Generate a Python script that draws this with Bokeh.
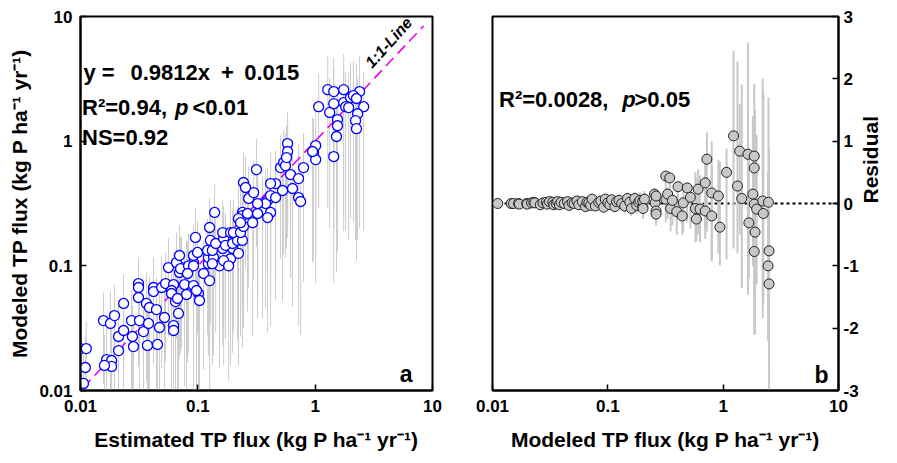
import math
from bokeh.plotting import figure
from bokeh.layouts import row
from bokeh.models import Range1d, FixedTicker, CustomJSTickFormatter, Label, Span, ColumnDataSource
from bokeh.embed import file_html
from bokeh.resources import INLINE

FONT = "Liberation Sans"

# ---------------- panel a: estimated vs modeled TP flux ----------------
est_a = [0.0106, 0.0110, 0.0100, 0.0112, 0.0157, 0.0180, 0.0195, 0.0233, 0.0211, 0.0233,
         0.0211, 0.0167, 0.0184, 0.0184, 0.0160, 0.0283, 0.0277, 0.0272, 0.0318, 0.0344,
         0.0372, 0.0453, 0.0380, 0.0471, 0.0520, 0.0621, 0.0621, 0.0312, 0.0312, 0.0312,
         0.0365, 0.0387, 0.0419, 0.0419, 0.0444, 0.0491, 0.0562, 0.0531, 0.0621, 0.0597,
         0.0597, 0.0645, 0.0684, 0.0698, 0.0801, 0.0726, 0.0771, 0.0919, 0.0801, 0.1014,
         0.1033, 0.112, 0.126, 0.123, 0.153, 0.0919, 0.0658, 0.0671, 0.0975,
         0.0712, 0.0834, 0.0919, 0.0817, 0.0698, 0.0919, 0.0994, 0.123, 0.136, 0.190,
         0.166, 0.133, 0.183, 0.121, 0.133, 0.163, 0.198, 0.222, 0.128, 0.142,
         0.166, 0.172, 0.198, 0.218, 0.240, 0.0955, 0.163, 0.190, 0.201, 0.231,
         0.126, 0.245, 0.139, 0.240, 0.240, 0.222, 0.231, 0.293, 0.265, 0.356,
         0.417, 0.393, 0.323, 0.393, 0.378, 0.417, 0.460, 0.323, 0.271, 0.299,
         0.245, 0.255, 0.460, 0.417, 0.527, 0.641, 0.722, 0.751, 0.617, 0.722,
         0.316, 0.507, 0.538, 0.559, 0.796, 0.969, 1.01,
         1.28, 1.44, 1.75, 2.39, 1.07, 1.33, 1.44, 1.75, 1.82, 1.93,
         2.00, 2.12, 2.25, 2.59, 2.30, 1.55, 1.55, 2.21, 2.25, 1.52,
         1.44, 1.01, 0.950, 0.582, 0.582, 0.570]
mod_a = [0.0114, 0.0153, 0.0217, 0.0217, 0.0364, 0.0345, 0.0399, 0.0499, 0.0271, 0.0303,
         0.0209, 0.0177, 0.0174, 0.0156, 0.0159, 0.0225, 0.0271, 0.0364, 0.0364, 0.0297,
         0.0230, 0.0234, 0.0345, 0.0320, 0.0385, 0.0332, 0.0303, 0.0721, 0.0670, 0.0557,
         0.0499, 0.0463, 0.0670, 0.0622, 0.0446, 0.0670, 0.0969, 0.0721, 0.0708, 0.0634,
         0.0600, 0.0517, 0.0415, 0.0884, 0.0884, 0.0969, 0.0708, 0.0695, 0.0589, 0.0600,
         0.0527, 0.0868, 0.0762, 0.104, 0.100, 0.106, 0.106, 0.0547, 0.0634,
         0.0951, 0.100, 0.100, 0.0868, 0.121, 0.121, 0.128, 0.117, 0.117, 0.114,
         0.110, 0.104, 0.100, 0.133, 0.133, 0.138, 0.138, 0.126, 0.160, 0.151,
         0.166, 0.146, 0.151, 0.160, 0.160, 0.169, 0.185, 0.185, 0.185, 0.185,
         0.203, 0.207, 0.268, 0.268, 0.253, 0.239, 0.222, 0.222, 0.263, 0.278,
         0.268, 0.244, 0.263, 0.334, 0.316, 0.366, 0.353, 0.316, 0.347, 0.387,
         0.466, 0.425, 0.457, 0.457, 0.402, 0.417, 0.353, 0.328, 0.540, 0.501,
         0.592, 0.614, 0.673, 0.637, 0.614, 0.811, 0.712,
         2.59, 2.50, 2.59, 2.50, 1.89, 1.70, 2.00, 2.04, 1.89, 1.86,
         2.24, 2.32, 2.20, 1.89, 1.66, 1.49, 1.33, 1.46, 1.26, 1.09,
         0.753, 0.922, 0.826, 0.957, 0.826, 0.738]
sd_a = [0.008, 0.012, 0.013, 0.014, 0.025, 0.028, 0.030, 0.035, 0.022, 0.024,
        0.016, 0.014, 0.015, 0.013, 0.012, 0.018, 0.021, 0.027, 0.028, 0.024,
        0.019, 0.020, 0.027, 0.027, 0.031, 0.029, 0.027, 0.045, 0.048, 0.040,
        0.038, 0.036, 0.050, 0.046, 0.036, 0.052, 0.070, 0.055, 0.058, 0.052,
        0.050, 0.044, 0.036, 0.070, 0.072, 0.075, 0.060, 0.060, 0.050, 0.052,
        0.046, 0.072, 0.066, 0.085, 0.085, 0.082, 0.080, 0.046, 0.054,
        0.075, 0.080, 0.082, 0.070, 0.090, 0.095, 0.100, 0.095, 0.098, 0.098,
        0.094, 0.088, 0.088, 0.105, 0.108, 0.115, 0.118, 0.110, 0.125, 0.122,
        0.135, 0.120, 0.128, 0.135, 0.138, 0.120, 0.150, 0.152, 0.155, 0.158,
        0.150, 0.175, 0.190, 0.220, 0.210, 0.200, 0.190, 0.195, 0.220, 0.240,
        0.235, 0.215, 0.225, 0.280, 0.270, 0.310, 0.300, 0.265, 0.280, 0.310,
        0.350, 0.330, 0.380, 0.370, 0.350, 0.370, 0.320, 0.300, 0.460, 0.440,
        0.450, 0.500, 0.550, 0.520, 0.540, 0.700, 0.640,
        2.3, 2.2, 2.4, 2.3, 1.6, 1.5, 1.8, 1.8, 1.7, 1.7,
        2.0, 2.1, 2.0, 1.7, 1.5, 1.3, 1.2, 1.3, 1.15, 1.0,
        0.68, 0.80, 0.72, 0.75, 0.66, 0.60]

one_to_one = [0.0105, 8.4]
log_ticks = [0.01, 0.1, 1, 10]

# ---------------- panel b: residuals ----------------
mod_b = [0.0111, 0.0145, 0.0152, 0.0168, 0.0171, 0.0198, 0.0200, 0.0218, 0.0228, 0.0233,
         0.0260, 0.0274, 0.0292, 0.0300, 0.0312, 0.0333, 0.0340, 0.0356, 0.0367, 0.0380,
         0.0393, 0.0419, 0.0447, 0.0460, 0.0490, 0.0510, 0.0540, 0.0560, 0.0600, 0.0640,
         0.0660, 0.0684, 0.0710, 0.0731, 0.0780, 0.0834, 0.0870, 0.0920, 0.0950, 0.1000,
         0.104, 0.108, 0.115, 0.119, 0.125, 0.132, 0.140, 0.148, 0.155, 0.160,
         0.171, 0.178, 0.185, 0.190, 0.201, 0.201, 0.208, 0.202,
         0.254, 0.257, 0.262, 0.262, 0.262, 0.318, 0.344, 0.318, 0.330, 0.350,
         0.363, 0.396, 0.406, 0.442, 0.451, 0.488, 0.520, 0.575, 0.586, 0.607,
         0.630, 0.699, 0.699, 0.722, 0.796, 0.796, 0.908, 0.937, 1.07, 1.23,
         1.33, 1.39, 1.45, 1.64, 1.67, 1.81, 1.86, 1.86, 1.86, 1.89,
         1.86, 1.95, 2.20, 2.23, 2.47, 2.50, 2.45, 2.50]
res_b = [0.00, 0.00, 0.00, 0.00, -0.01, 0.00, -0.01, 0.01, 0.02, 0.01,
         -0.02, 0.01, 0.02, -0.01, 0.03, 0.02, -0.02, 0.00, 0.03, -0.02,
         0.02, 0.00, 0.03, -0.03, 0.01, 0.00, 0.04, -0.02, 0.03, -0.05,
         0.02, 0.01, -0.03, 0.07, -0.04, 0.02, 0.04, -0.06, 0.07, 0.01,
         -0.02, 0.06, -0.05, 0.03, 0.05, 0.00, -0.04, 0.08, 0.02, -0.08,
         0.08, -0.03, 0.02, 0.05, -0.06, 0.04, 0.07, -0.08,
         0.15, 0.01, 0.12, -0.12, -0.17, 0.44, 0.41, 0.07, 0.15, -0.08,
         0.05, -0.13, 0.27, -0.20, 0.01, 0.25, 0.10, -0.08, -0.25, 0.23,
         -0.09, -0.12, 0.33, 0.71, 0.17, -0.20, 0.12, -0.38, 0.50, 1.085,
         0.28, 0.84, 0.08, 0.79, -0.31, 0.15, 0.76, 0.57, -0.01, -0.46,
         -0.77, -0.09, 0.04, -0.16, 0.02, -0.76, -1.00, -1.29]
lo_b = [-0.02, -0.02, -0.02, -0.02, -0.03, -0.02, -0.03, -0.02, -0.02, -0.02,
        -0.04, -0.02, -0.02, -0.03, -0.01, -0.02, -0.04, -0.03, -0.01, -0.05,
        -0.02, -0.04, -0.02, -0.06, -0.04, -0.05, -0.01, -0.06, -0.03, -0.10,
        -0.04, -0.06, -0.08, 0.00, -0.10, -0.05, -0.04, -0.12, -0.02, -0.08,
        -0.10, -0.04, -0.14, -0.08, -0.06, -0.12, -0.15, -0.05, -0.12, -0.20,
        -0.06, -0.16, -0.12, -0.10, -0.22, -0.12, -0.10, -0.25,
        -0.10, -0.15, -0.20, -0.30, -0.35, -0.10, -0.15, -0.30, -0.25, -0.45,
        -0.35, -0.50, -0.20, -0.50, -0.45, -0.30, -0.40, -0.62, -0.60, -0.50,
        -0.62, -0.57, -0.40, -0.45, -0.93, -0.90, -0.80, -0.99, -0.90, -0.72,
        -0.80, -0.50, -1.36, -1.46, -1.20, -1.00, -0.60, -1.00, -1.50, -2.10,
        -2.10, -1.30, -1.84, -1.60, -1.20, -3.00, -2.20, -2.60]
hi_b = [0.02, 0.02, 0.02, 0.02, 0.02, 0.02, 0.02, 0.03, 0.04, 0.03,
        0.01, 0.03, 0.04, 0.02, 0.05, 0.04, 0.01, 0.03, 0.05, 0.01,
        0.05, 0.03, 0.06, 0.01, 0.05, 0.05, 0.08, 0.03, 0.08, 0.00,
        0.07, 0.06, 0.03, 0.12, 0.02, 0.08, 0.10, 0.00, 0.13, 0.08,
        0.06, 0.14, 0.04, 0.12, 0.15, 0.10, 0.08, 0.18, 0.12, 0.06,
        0.18, 0.10, 0.15, 0.18, 0.08, 0.16, 0.20, 0.06,
        0.25, 0.12, 0.22, 0.10, 0.05, 0.50, 0.48, 0.20, 0.25, 0.15,
        0.20, 0.12, 0.30, 0.10, 0.25, 0.30, 0.25, 0.50, 0.40, 0.55,
        0.45, 0.50, 0.80, 1.14, 1.00, 0.60, 0.70, 0.67, 0.88, 2.45,
        2.28, 1.60, 1.91, 2.58, 0.90, 1.40, 1.92, 1.20, 1.30, 1.50,
        0.80, 1.10, 2.00, 1.80, 1.70, 0.90, 0.50, 0.20]
res_ticks = [-3, -2, -1, 0, 1, 2, 3]

TICK_FMT = CustomJSTickFormatter(code="return String(tick);")


def style_axes(p):
    for ax in (p.xaxis + p.yaxis):
        ax.major_tick_in = 6
        ax.major_tick_out = 0
        ax.minor_tick_line_color = None
        ax.axis_line_width = 2
        ax.axis_line_color = "black"
        ax.major_tick_line_width = 1.5
        ax.major_tick_line_color = "black"
        ax.major_label_text_font = FONT
        ax.major_label_text_font_style = "bold"
        ax.major_label_text_font_size = "17px"
        ax.major_label_text_color = "black"
        ax.axis_label_text_font = FONT
        ax.axis_label_text_font_style = "bold"
        ax.axis_label_text_font_size = "21px"
        ax.axis_label_text_color = "black"
        ax.formatter = TICK_FMT
    p.xaxis.major_label_standoff = 9
    p.xaxis.axis_label_standoff = 13
    p.grid.visible = False
    p.outline_line_color = "black"
    p.outline_line_width = 2
    p.background_fill_color = "white"
    p.border_fill_color = "white"


def add_text(p, text, x, y, size="22px", style="bold", align="left",
             baseline="alphabetic", angle=0, units="screen"):
    p.add_layout(Label(x=x, y=y, x_units=units, y_units=units, text=text,
                       text_font=FONT, text_font_style=style, text_font_size=size,
                       text_align=align, text_baseline=baseline, angle=angle,
                       text_color="black"))


# ---------- figure a ----------
pa = figure(width=452, height=462, x_axis_type="log", y_axis_type="log",
            x_range=Range1d(0.01, 10), y_range=Range1d(0.01, 10),
            output_backend="svg", toolbar_location=None,
            min_border_left=80, min_border_right=20, min_border_top=16, min_border_bottom=72)

src_a = ColumnDataSource(dict(
    x=est_a, y=mod_a,
    lo=[m - s for m, s in zip(mod_a, sd_a)],
    hi=[m + s for m, s in zip(mod_a, sd_a)]))
pa.segment(x0="x", y0="lo", x1="x", y1="hi", source=src_a, line_color="#cdcdcd", line_width=1)
pa.line(one_to_one, one_to_one, line_color="#ee00ee", line_width=1.6, line_dash="11 6")
pa.scatter("x", "y", source=src_a, size=10, marker="circle", fill_color="white",
           line_color="#0000ff", line_width=1.3)

pa.xaxis.ticker = FixedTicker(ticks=log_ticks)
pa.yaxis.ticker = FixedTicker(ticks=log_ticks)
pa.xaxis.axis_label = "Estimated TP flux (kg P ha\u207b\u00b9 yr\u207b\u00b9)"
pa.yaxis.axis_label = "Modeled TP flux (kg P ha\u207b\u00b9 yr\u207b\u00b9)"
style_axes(pa)
pa.yaxis.major_label_standoff = 8
pa.yaxis.axis_label_standoff = 5

add_text(pa, "y =", 3, 318.3)
add_text(pa, "0.9812x", 50, 318.3)
add_text(pa, "+", 140.5, 318.3)
add_text(pa, "0.015", 163.7, 318.3)
add_text(pa, "R\u00b2=0.94,", 1.5, 283.3)
add_text(pa, "p", 94.5, 283.3, style="bold italic")
add_text(pa, "<0.01", 112, 283.3)
add_text(pa, "NS=0.92", 1.5, 252.7)
add_text(pa, "a", 332, 17, size="23px", align="right")
add_text(pa, "1:1-Line", 4.23, 6.18, size="16px", style="bold italic", align="center",
         baseline="middle", angle=0.838, units="data")

# ---------- figure b ----------
pb = figure(width=444, height=462, x_axis_type="log",
            x_range=Range1d(0.01, 10), y_range=Range1d(-3, 3),
            y_axis_location="right",
            output_backend="svg", toolbar_location=None,
            min_border_left=40, min_border_right=52, min_border_top=16, min_border_bottom=72)

src_b = ColumnDataSource(dict(x=mod_b, y=res_b, lo=lo_b, hi=hi_b))
pb.segment(x0="x", y0="lo", x1="x", y1="hi", source=src_b, line_color="#c8c8c8", line_width=2)
pb.add_layout(Span(location=0, dimension="width", line_color="black", line_width=2,
                   line_dash="3 3", level="underlay"))
pb.scatter("x", "y", source=src_b, size=10, marker="circle", fill_color="#c8c8c8",
           line_color="#222222", line_width=1)

pb.xaxis.ticker = FixedTicker(ticks=log_ticks)
pb.yaxis.ticker = FixedTicker(ticks=res_ticks)
pb.xaxis.axis_label = "Modeled TP flux (kg P ha\u207b\u00b9 yr\u207b\u00b9)"
pb.yaxis.axis_label = "Residual"
style_axes(pb)
pb.yaxis.major_label_standoff = 5
pb.yaxis.axis_label_standoff = 9
pb.yaxis.axis_label_orientation = math.pi / 2

add_text(pb, "R\u00b2=0.0028,", 6.5, 290.7)
add_text(pb, "p", 129.7, 290.7, style="bold italic")
add_text(pb, ">0.05", 142, 290.7)
add_text(pb, "b", 336, 16, size="23px", align="right")

layout = row(pa, pb, spacing=0)
open("out.html", "w").write(file_html(layout, INLINE))
